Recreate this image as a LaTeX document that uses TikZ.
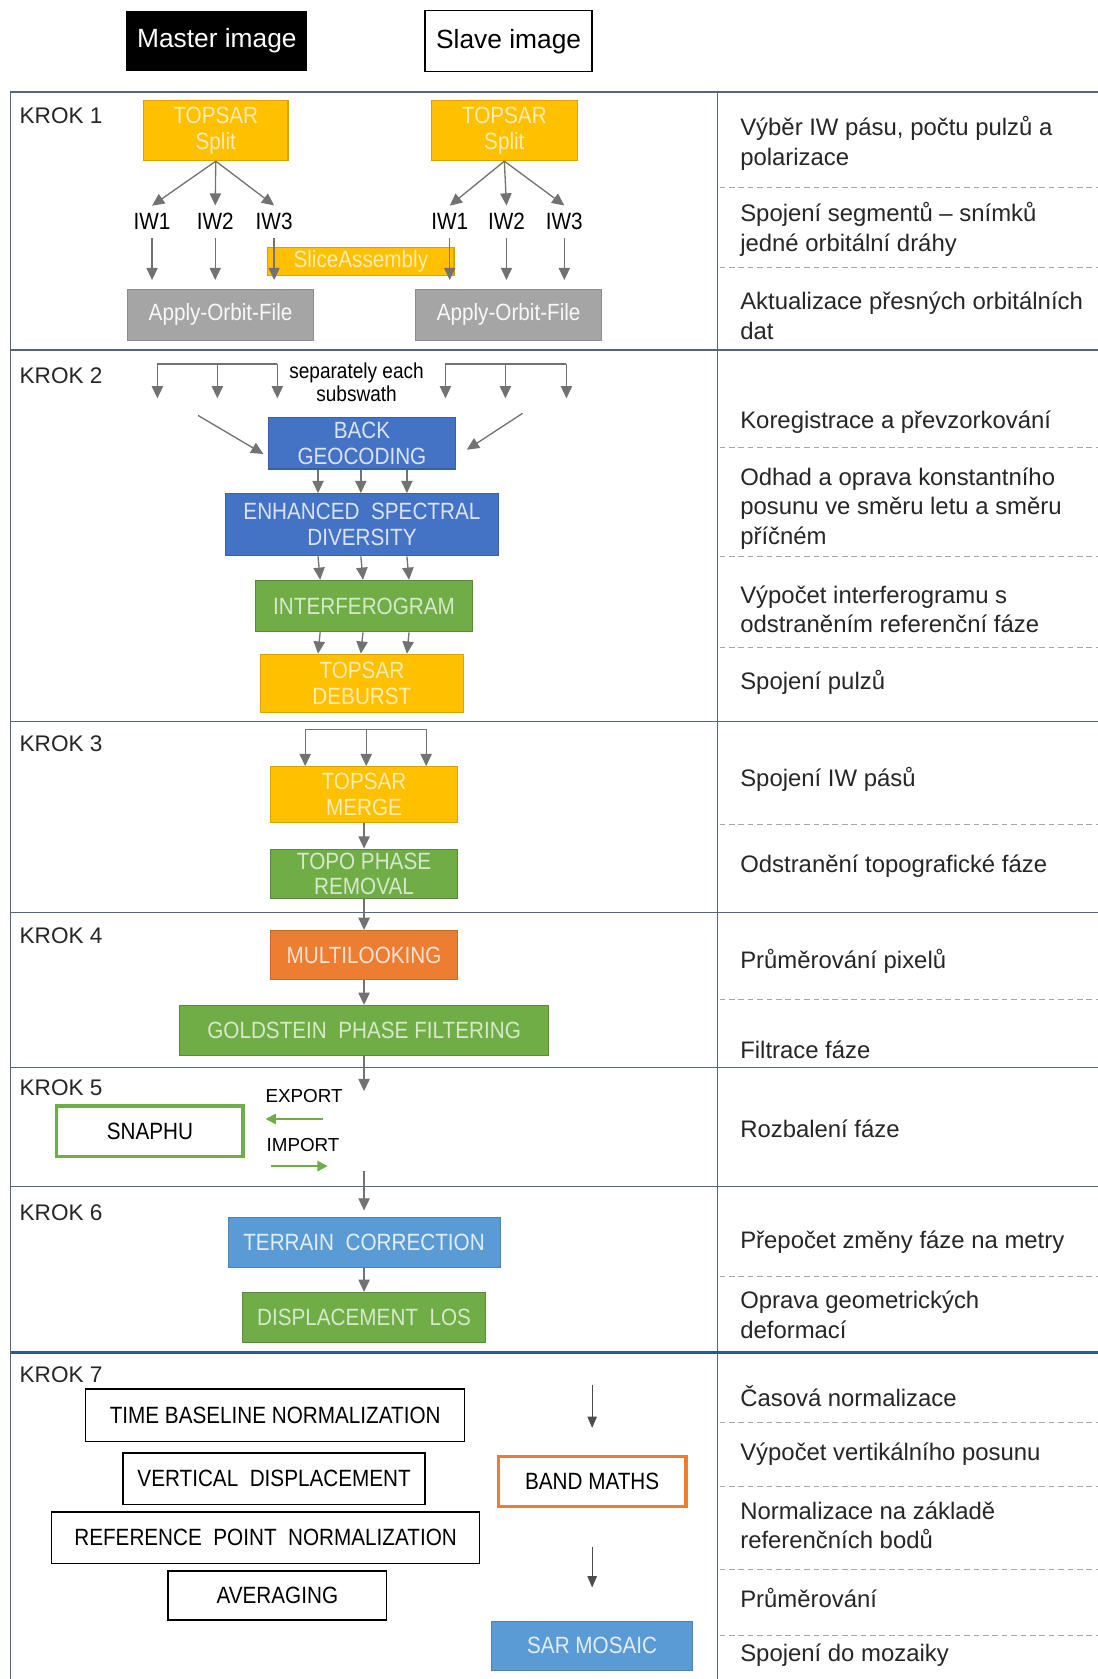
\documentclass[tikz,border=0pt]{standalone}
\usepackage{fontspec}
\setmainfont{Liberation Sans}
\newfontfamily\narrowsans[FakeStretch=0.88]{Liberation Sans}
\usetikzlibrary{arrows.meta}
\definecolor{procamber}{HTML}{FFC000}
\definecolor{procblue}{HTML}{4472C4}
\definecolor{procsky}{HTML}{5B9BD5}
\definecolor{procgreen}{HTML}{70AD47}
\definecolor{procorange}{HTML}{ED7D31}
\definecolor{procgrey}{HTML}{A5A5A5}
\definecolor{arrowgrey}{HTML}{727272}
\definecolor{rulegrey}{HTML}{55667A}
\definecolor{ruleblue}{HTML}{2F5597}
\definecolor{dashgrey}{HTML}{A6A6A6}
\definecolor{textink}{HTML}{262626}

\begin{document}
\begin{tikzpicture}[
  x=0.02cm,
  y=-0.02cm,
  wh/.style 2 args={minimum width=#1*0.02cm, minimum height=#2*0.02cm},
  proc/.style={font=\narrowsans\fontsize{12.5}{13.6}\selectfont, align=center,
               inner sep=0pt, line width=0.6pt},
  amberbox/.style={proc, fill=procamber, draw=procamber!85!black, text=procamber!30!white},
  bluebox/.style={proc, fill=procblue, draw=procblue!85!black, text=procblue!20!white},
  skybox/.style={proc, fill=procsky, draw=procsky!85!black, text=procsky!18!white},
  greenbox/.style={proc, fill=procgreen, draw=procgreen!80!black, text=procgreen!28!white},
  orangebox/.style={proc, fill=procorange, draw=procorange!85!black, text=procorange!22!white},
  greybox/.style={proc, fill=procgrey, draw=procgrey!85!black, text=procgrey!8!white},
  plainbox/.style={proc, fill=white, draw=black, line width=0.8pt, text=black},
  ringbox/.style={proc, fill=white, draw=#1, line width=1.8pt, text=black},
  headbox/.style={font=\fontsize{14}{16}\selectfont, inner sep=0pt},
  iwlabel/.style={font=\narrowsans\fontsize{12.5}{13.6}\selectfont, inner sep=0.14cm, text=black},
  kroklabel/.style={anchor=west, font=\fontsize{12}{14}\selectfont, text=textink, inner sep=0pt},
  desc/.style={anchor=west, align=left, font=\fontsize{12.7}{15.9}\selectfont,
               text=textink, inner sep=0pt},
  note/.style={font=\fontsize{10}{12}\selectfont, text=black, inner sep=0pt},
  arr/.style={arrowgrey, line width=0.7pt, -{Triangle[length=6.5pt, width=6pt]}},
  link/.style={arrowgrey, line width=0.7pt},
  thinarr/.style={black!70, line width=0.5pt, -{Triangle[length=6pt, width=5pt]}},
  greenarr/.style={procgreen, line width=1.1pt, -{Triangle[length=5.5pt, width=5.5pt]}},
  rowrule/.style={rulegrey, line width=0.8pt},
  subrule/.style={dashgrey, line width=0.5pt, dash pattern=on 3pt off 2pt}
]
  \path[use as bounding box, fill=white] (0,0) rectangle (1025,1568);

  % ---- the two input images ---------------------------------------------
  \node[headbox, fill=black, text=white, wh={169}{56}] (master) at (202.5,38)
    {Master image};
  \node[headbox, draw=black, line width=0.8pt, text=black, wh={156}{57}] (slave)
    at (475,38.5) {Slave image};

  % ---- table frame: step rows, description column ------------------------
  \draw[rowrule] (10,1568) -- (10,86) -- (1025,86);
  \draw[rowrule] (670,86) -- (670,1568);
  \foreach \y in {327,674,852,997,1108}
    \draw[rowrule] (10,\y) -- (1025,\y);
  \draw[ruleblue, line width=1.2pt] (10,1263) -- (1025,1263);
  \foreach \y in {175,250,418,520,605,770,933,1192,1328,1388,1466,1527}
    \draw[subrule] (672,\y) -- (1025,\y);
  \foreach \y [count=\k] in {108,351,695,874,1016,1133,1284}
    \node[kroklabel] (krok\k) at (18,\y) {KROK \k};

  % ---- descriptions, right column ----------------------------------------
  \foreach \y/\t [count=\i] in {
      134/{Výběr IW pásu, počtu pulzů a\\polarizace},
      214.5/{Spojení segmentů – snímků\\jedné orbitální dráhy},
      295/{Aktualizace přesných orbitálních\\dat},
      394/{Koregistrace a převzorkování},
      475/{Odhad a oprava konstantního\\posunu ve směru letu a směru\\příčném},
      569/{Výpočet interferogramu s\\odstraněním referenční fáze},
      637/{Spojení pulzů},
      728/{Spojení IW pásů},
      809/{Odstranění topografické fáze},
      898/{Průměrování pixelů},
      980/{Filtrace fáze},
      1054/{Rozbalení fáze},
      1160/{Přepočet změny fáze na metry},
      1228/{Oprava geometrických\\deformací},
      1304/{Časová normalizace},
      1358/{Výpočet vertikálního posunu},
      1424.5/{Normalizace na základě\\referenčních bodů},
      1492/{Průměrování},
      1546/{Spojení do mozaiky}}
    \node[desc] (desc\i) at (691,\y) {\t};

  % ---- KROK 1 ---------------------------------------------------------------
  \node[amberbox, wh={135}{56}] (splitm) at (201.5,122) {TOPSAR\\Split};
  \node[amberbox, wh={136}{56}] (splits) at (471,122) {TOPSAR\\Split};
  \foreach \x [count=\i] in {142,201,256}
    \node[iwlabel] (iwm\i) at (\x,207) {IW\i};
  \foreach \x [count=\i] in {420,473,527}
    \node[iwlabel] (iws\i) at (\x,207) {IW\i};
  \node[amberbox, wh={174}{26}] (slice) at (337,244) {SliceAssembly};
  \node[greybox, wh={174}{48}] (orbm) at (206,294) {Apply-Orbit-File};
  \node[greybox, wh={174}{48}] (orbs) at (475,294) {Apply-Orbit-File};
  % arrows cross the SliceAssembly bar, so they come after it
  \foreach \i in {1,2,3} {
    \draw[arr] (splitm.south) -- (iwm\i.north);
    \draw[arr] (splits.south) -- (iws\i.north);
    \draw[arr, shorten >=0.16cm] (iwm\i.south) -- (iwm\i.south |- orbm.north);
    \draw[arr, shorten >=0.16cm] (iws\i.south) -- (iws\i.south |- orbs.north);
  }

  % ---- KROK 2 ---------------------------------------------------------------
  \foreach \x [count=\i] in {147,203,259} {
    \coordinate (bm\i) at (\x,340);
    \coordinate (em\i) at (\x,372);
  }
  \foreach \x [count=\i] in {416,472,529} {
    \coordinate (bs\i) at (\x,340);
    \coordinate (es\i) at (\x,372);
  }
  \draw[link] (bm1) -- (bm3);
  \draw[link] (bs1) -- (bs3);
  \foreach \i in {1,2,3} {
    \draw[arr] (bm\i) -- (em\i);
    \draw[arr] (bs\i) -- (es\i);
  }
  \node[proc, font=\narrowsans\fontsize{11.5}{12}\selectfont, text=black] (subsw)
    at (333,357) {separately each\\subswath};

  \node[bluebox, wh={175}{48}] (backgeo) at (338,414) {BACK\\GEOCODING};
  \node[bluebox, wh={255}{58}] (esd) at (338,490) {ENHANCED~ SPECTRAL\\DIVERSITY};
  \node[greenbox, wh={203}{48}] (interf) at (340,566) {INTERFEROGRAM};
  \node[amberbox, wh={190}{54}] (deburst) at (338,638) {TOPSAR\\DEBURST};

  \coordinate (inm) at (185,388);
  \coordinate (ins) at (488,386);
  \draw[arr] (inm) -- ([shift={(-4,10)}]backgeo.west);
  \draw[arr] (ins) -- ([shift={(10,6)}]backgeo.east);
  \foreach \d in {-41,-1,42} {
    \draw[arr] ([xshift=\d*0.02cm]backgeo.south) -- ([xshift=\d*0.02cm]esd.north);
    \draw[arr] ([xshift=\d*0.02cm]esd.south) -- ([xshift=\d*0.02cm]interf.north);
    \draw[arr] ([xshift=\d*0.02cm]interf.south) -- ([xshift=\d*0.02cm]deburst.north);
  }

  % ---- KROK 3 ---------------------------------------------------------------
  \node[amberbox, wh={174}{52}] (merge) at (340,742) {TOPSAR\\MERGE};
  \node[greenbox, wh={174}{46}] (topo) at (340,816) {TOPO PHASE\\REMOVAL};
  \foreach \x [count=\i] in {285,342,398}
    \coordinate (mg\i) at (\x,681);
  \draw[link] (mg1) -- (mg3);
  \foreach \i in {1,2,3}
    \draw[arr] (mg\i) -- (mg\i |- merge.north);
  \draw[arr] (merge.south) -- (topo.north);

  % ---- KROK 4 ---------------------------------------------------------------
  \node[orangebox, wh={174}{46}] (multi) at (340,892) {MULTILOOKING};
  \node[greenbox, wh={344}{47}] (gold) at (340,962.5) {GOLDSTEIN~ PHASE FILTERING};
  \draw[arr] (topo.south) -- (multi.north);
  \draw[arr] (multi.south) -- (gold.north);
  \coordinate (toexp) at (340,1019);
  \draw[arr] (gold.south) -- (toexp);

  % ---- KROK 5 ---------------------------------------------------------------
  \node[ringbox=procgreen, wh={174}{47}] (snaphu) at (140,1056.5) {SNAPHU};
  \node[note] (export) at (284,1024) {EXPORT};
  \node[note] (import) at (283,1069) {IMPORT};
  \coordinate (expa) at (302,1045);
  \coordinate (expb) at (248,1045);
  \coordinate (impa) at (253,1089);
  \coordinate (impb) at (306,1089);
  \draw[greenarr] (expa) -- (expb);
  \draw[greenarr] (impa) -- (impb);

  % ---- KROK 6 ---------------------------------------------------------------
  \node[skybox, wh={254}{47}] (terrain) at (340,1160.5) {TERRAIN~ CORRECTION};
  \node[greenbox, wh={227}{47}] (disp) at (340,1230.5) {DISPLACEMENT~ LOS};
  \coordinate (fromimp) at (340,1094);
  \draw[arr, shorten >=0.12cm] (fromimp) -- (terrain.north);
  \draw[arr] (terrain.south) -- (disp.north);

  % ---- KROK 7 ---------------------------------------------------------------
  \node[plainbox, wh={354}{49}] (tbn) at (257,1321.5) {TIME BASELINE NORMALIZATION};
  \node[plainbox, wh={282}{48}] (vdisp) at (256,1381) {VERTICAL~ DISPLACEMENT};
  \node[plainbox, wh={400}{48}] (rpn) at (248,1436) {REFERENCE~ POINT~ NORMALIZATION};
  \node[plainbox, wh={204}{46}] (avg) at (259,1490) {AVERAGING};
  \node[ringbox=procorange, wh={175}{47}] (bandm) at (553,1383.5) {BAND MATHS};
  \node[skybox, wh={188}{46}] (sarm) at (553,1537) {SAR MOSAIC};
  \coordinate (mathin) at (553,1293);
  \draw[thinarr, shorten >=0.5cm] (mathin) -- (bandm.north);
  \draw[thinarr, shorten <=0.72cm, shorten >=0.62cm] (bandm.south) -- (sarm.north);
\end{tikzpicture}
\end{document}
